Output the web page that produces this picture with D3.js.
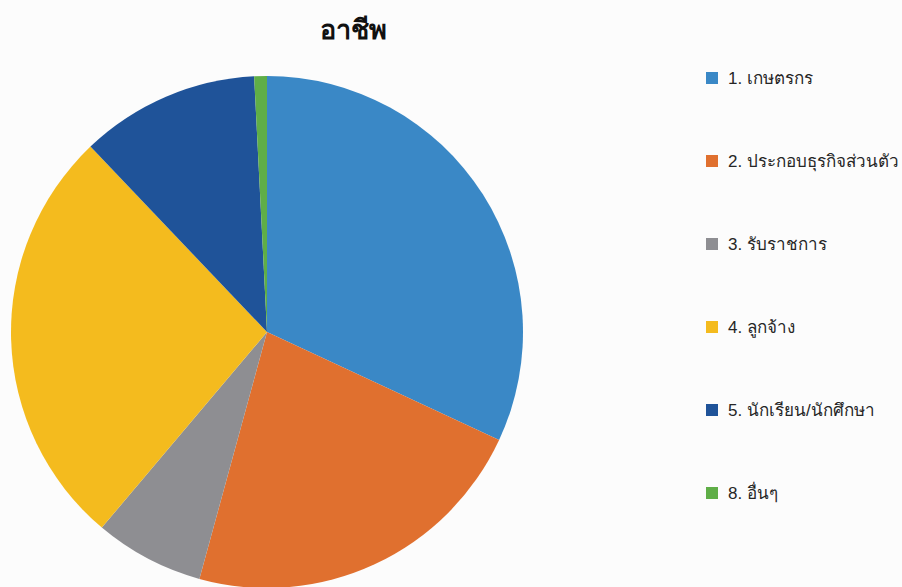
<!DOCTYPE html>
<html>
<head>
<meta charset="utf-8">
<script src="https://cdn.jsdelivr.net/npm/d3@7"></script>
<style>
  html, body { margin: 0; padding: 0; background: #fcfcfc; }
  svg { display: block; }
</style>
</head>
<body>
<svg id="chart" width="902" height="587"></svg>
<script>
// Occupation breakdown (percent of respondents)
const title = "อาชีพ";
const categories = [
  "1. เกษตรกร",
  "2. ประกอบธุรกิจส่วนตัว",
  "3. รับราชการ",
  "4. ลูกจ้าง",
  "5. นักเรียน/นักศึกษา",
  "8. อื่นๆ"
];
const values = [31.9, 22.3, 6.9, 26.7, 11.3, 0.8];
const colors = ["#3a88c6", "#e0702f", "#8e8e92", "#f4bb1e", "#1f5399", "#5fae47"];

const svg = d3.select("#chart");

const cx = 267, cy = 332, radius = 256;

const color = d3.scaleOrdinal().domain(categories).range(colors);

const pie = d3.pie().sort(null).value(d => d.value);
const arc = d3.arc().innerRadius(0).outerRadius(radius);

const data = categories.map((c, i) => ({ name: c, value: values[i] }));

const g = svg.append("g").attr("transform", `translate(${cx},${cy})`);
g.selectAll("path")
  .data(pie(data))
  .join("path")
  .attr("d", arc)
  .attr("fill", d => color(d.data.name));

// Title
svg.append("text")
  .attr("x", 353)
  .attr("y", 39)
  .attr("text-anchor", "middle")
  .attr("font-family", "'Liberation Sans', Arial, sans-serif")
  .attr("font-weight", "bold")
  .attr("font-size", 27)
  .attr("fill", "#111")
  .text(title);

// Legend
const legendY = d3.scalePoint().domain(categories).range([78, 493]);
const legend = svg.append("g")
  .selectAll("g")
  .data(categories)
  .join("g")
  .attr("transform", d => `translate(706,${legendY(d)})`);

legend.append("rect")
  .attr("x", 0)
  .attr("y", -6)
  .attr("width", 12)
  .attr("height", 12)
  .attr("fill", d => color(d));

legend.append("text")
  .attr("x", 22)
  .attr("y", 6)
  .attr("font-family", "'Liberation Sans', Arial, sans-serif")
  .attr("font-size", 17)
  .attr("fill", "#262626")
  .text(d => d);
</script>
</body>
</html>
